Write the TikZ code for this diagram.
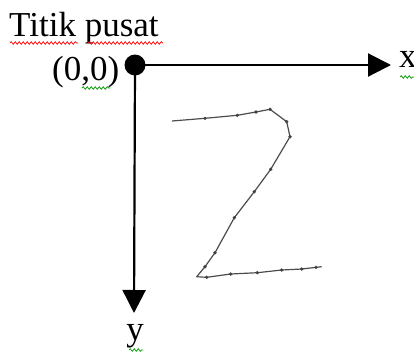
\documentclass[tikz,border=0pt]{standalone}
\usepackage{fontspec}
\setmainfont{Liberation Serif}
\usetikzlibrary{arrows.meta,decorations.pathmorphing}
\begin{document}
\begin{tikzpicture}[x=1pt,y=-1pt,
  lbl/.style={inner sep=0pt,font=\fontsize{35}{40}\selectfont},
  axis/.style={line width=2.2pt,-{Triangle[length=23pt,width=23pt]}},
  wavyred/.style={draw=red,line width=0.7pt,decorate,decoration={snake,amplitude=1.3pt,segment length=4pt}},
  wavygreen/.style={draw=green!60!black,line width=0.7pt,decorate,decoration={snake,amplitude=1.3pt,segment length=4pt}},
  stroke/.style={draw=black!70,line width=1.2pt,line join=round},
  pt/.style={fill=black!75}]
\useasboundingbox (0,0) rectangle (414,354);
% axes
\node[circle,fill=black,minimum size=21pt,inner sep=0pt] (o) at (135,65) {};
\coordinate (xe) at (391,65);
\coordinate (ye) at (134,313);
\draw[axis] (o.center) -- (xe);
\draw[axis] (o.center) -- (ye);
% labels
\node[lbl,anchor=base west] (title) at (9,36) {Titik pusat};
\node[lbl,anchor=base west] (orig) at (52,80) {(0,0)};
\node[lbl,anchor=base west] (xl) at (399,67) {x};
\node[lbl,anchor=base] (yl) at (135,340) {y};
% spell-check underlines
\draw[wavyred] (10,43) -- (78,43);
\draw[wavyred] (88,43) -- (163,43);
\draw[wavygreen] (82,88) -- (110,88);
\draw[wavygreen] (400,77) -- (414,77);
\draw[wavygreen] (129,350) -- (143,350);
% the handwritten Z
\draw[stroke] (172,121) -- (205,118.3) -- (237.3,115.3) -- (256,112) -- (270,109.3)
  -- (286.7,121.7) -- (290,136.7) -- (270.7,169.3) -- (254.3,191.7) -- (234.3,217.7)
  -- (215,252.7) -- (205,266.7) -- (196.7,276.7) -- (206.7,277.3) -- (230.7,274)
  -- (257.3,272.7) -- (281.7,270) -- (301.7,269) -- (321.7,266.7);
\foreach \p in {(205,118.3),(237.3,115.3),(256,112),(270,109.3),(286.7,121.7),(290,136.7),
  (270.7,169.3),(254.3,191.7),(234.3,217.7),(215,252.7),(205,266.7),(206.7,277.3),
  (230.7,274),(257.3,272.7),(281.7,270),(301.7,269),(316,267.3)}
  \fill[pt] \p circle (1.8pt);
\end{tikzpicture}
\end{document}
